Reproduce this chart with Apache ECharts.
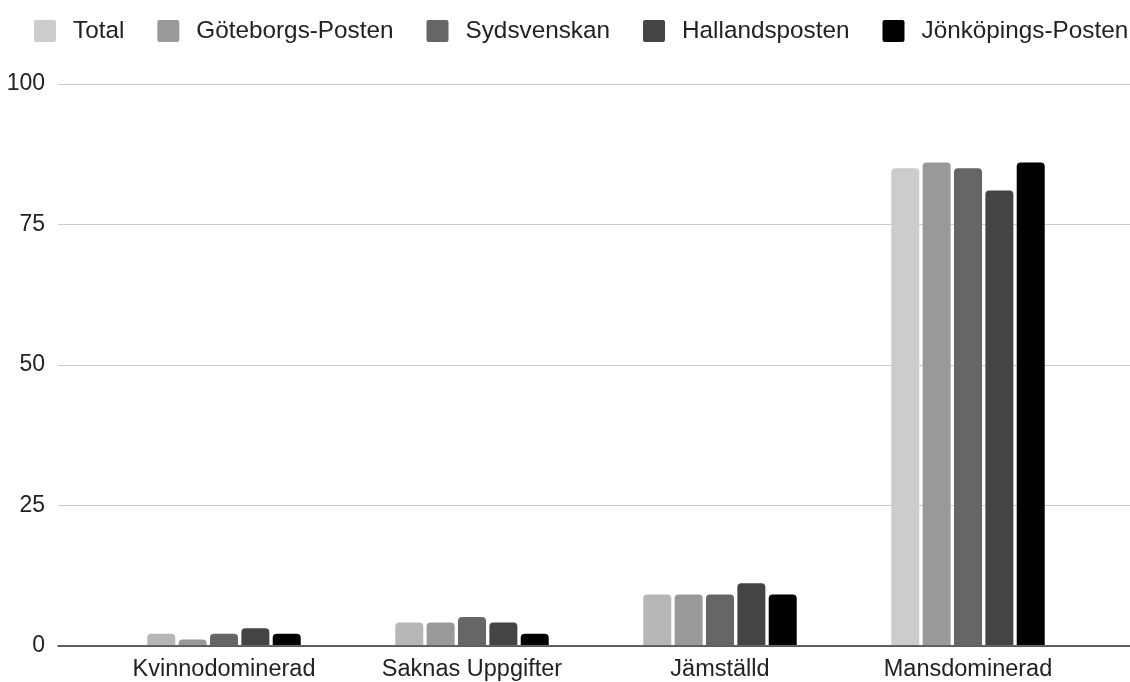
<!DOCTYPE html>
<html>
<head>
<meta charset="utf-8">
<script src="https://cdn.jsdelivr.net/npm/echarts@6/dist/echarts.min.js"></script>
<style>
html,body{margin:0;padding:0;background:#fff;}
#chart{width:1130px;height:682px;}
</style>
</head>
<body>
<div id="chart"></div>
<script>
var categories = ['Kvinnodominerad', 'Saknas Uppgifter', 'Jämställd', 'Mansdominerad'];
var seriesNames = ['Total', 'Göteborgs-Posten', 'Sydsvenskan', 'Hallandsposten', 'Jönköpings-Posten'];
var totalValues = [2, 4, 9, 85];
var gpValues = [1, 4, 9, 86];
var sydValues = [2, 5, 9, 85];
var hallandValues = [3, 4, 11, 81];
var jonkopingValues = [2, 2, 9, 86];
var yTicks = [0, 25, 50, 75, 100];

var seriesColors = ['#cccccc', '#999999', '#666666', '#444444', '#000000'];
var totalBarColors = ['#b7b7b7', '#b7b7b7', '#b7b7b7', '#cccccc'];
var FONT = '"Liberation Sans", Arial, sans-serif';
var ICON = 'path://M2,0 H20 Q22,0 22,2 V20 Q22,22 20,22 H2 Q0,22 0,20 V2 Q0,0 2,0 Z';

var allValues = [totalValues, gpValues, sydValues, hallandValues, jonkopingValues];

var series = [];
allValues.forEach(function (vals, i) {
  series.push({
    name: seriesNames[i],
    type: 'bar',
    xAxisIndex: 1,
    yAxisIndex: 1,
    barWidth: 28,
    barGap: '12%',
    itemStyle: { color: seriesColors[i], borderRadius: [4, 4, 0, 0] },
    emphasis: { disabled: true },
    data: vals.map(function (v, j) {
      if (i === 0) return { value: v, itemStyle: { color: totalBarColors[j] } };
      return v;
    })
  });
});

var chart = echarts.init(document.getElementById('chart'), null, { renderer: 'canvas' });
chart.setOption({
  animation: false,
  backgroundColor: '#ffffff',
  textStyle: { fontFamily: FONT },
  legend: {
    data: seriesNames.map(function (n, i) { return { name: n, itemStyle: { color: seriesColors[i] } }; }),
    left: 34,
    top: 19,
    width: 1096,
    padding: 0,
    itemWidth: 22,
    itemHeight: 23,
    itemGap: 33,
    icon: ICON,
    textStyle: { fontSize: 24.3, color: '#222222', fontFamily: FONT, padding: [0, 0, 0, 12] }
  },
  grid: [
    { left: 58, right: 0, top: 84, bottom: 36, containLabel: false },
    { left: 100, right: 38, top: 84, bottom: 36, containLabel: false }
  ],
  xAxis: [
    {
      gridIndex: 0, type: 'category', data: categories,
      axisLine: { show: true, lineStyle: { color: '#333333', width: 1.5 } },
      axisTick: { show: false }, axisLabel: { show: false }, splitLine: { show: false }
    },
    {
      gridIndex: 1, type: 'category', data: categories,
      axisLine: { show: false }, axisTick: { show: false },
      axisLabel: { show: true, fontSize: 23.5, color: '#222222', fontFamily: FONT, margin: 13 }
    }
  ],
  yAxis: [
    {
      gridIndex: 0, type: 'value', min: yTicks[0], max: yTicks[yTicks.length - 1], interval: 25,
      axisLine: { show: false }, axisTick: { show: false },
      axisLabel: { fontSize: 23, color: '#222222', fontFamily: FONT, margin: 13 },
      splitLine: { show: true, lineStyle: { color: '#cccccc', width: 1 } }
    },
    {
      gridIndex: 1, type: 'value', min: yTicks[0], max: yTicks[yTicks.length - 1], interval: 25,
      show: false, splitLine: { show: false }
    }
  ],
  series: series
});
</script>
</body>
</html>
